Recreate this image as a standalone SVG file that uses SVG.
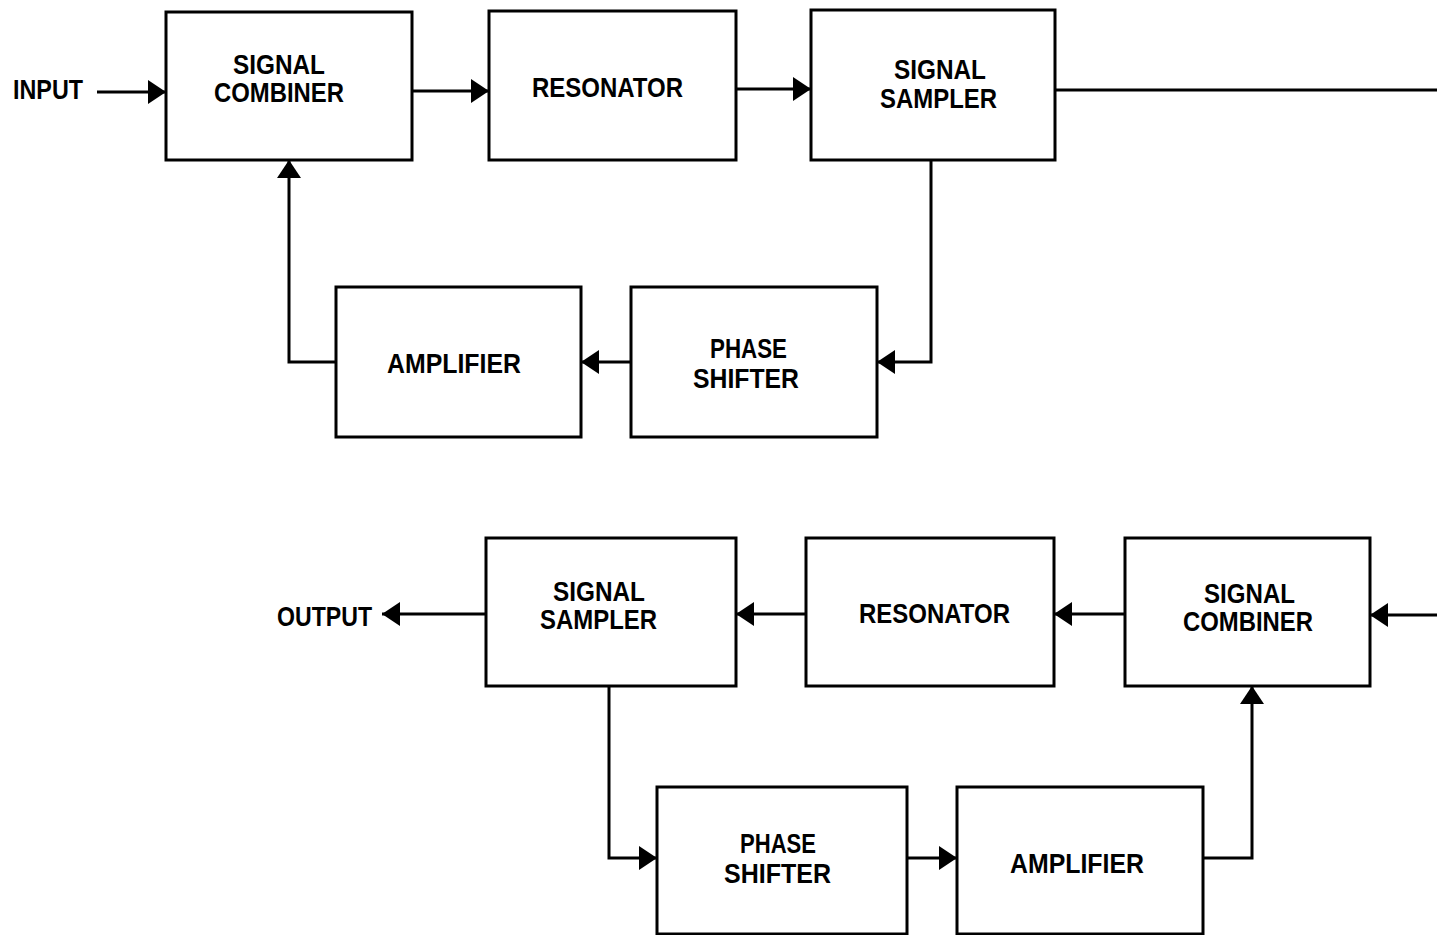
<svg xmlns="http://www.w3.org/2000/svg" width="1437" height="935" viewBox="0 0 1437 935">
<style>
.box{fill:#fff;stroke:#000;stroke-width:3}
.ln{fill:none;stroke:#000;stroke-width:3}
text{font-family:"Liberation Sans",Arial,sans-serif;font-weight:bold;font-size:28px;fill:#000}
</style>
<defs>
<marker id="ah" markerUnits="userSpaceOnUse" markerWidth="20" markerHeight="26" refX="18" refY="12" orient="auto" overflow="visible">
<path d="M0,0 L18,12 L0,24 Z" fill="#000"/>
</marker>
</defs>
<rect width="1437" height="935" fill="#fff"/>
<g id="connectors">
<path class="ln" d="M97,92 L166,92" marker-end="url(#ah)"/>
<path class="ln" d="M412,91 L489,91" marker-end="url(#ah)"/>
<path class="ln" d="M736,89 L811,89" marker-end="url(#ah)"/>
<path class="ln" d="M1055,90 L1437,90"/>
<path class="ln" d="M931,160 L931,362 L877,362" marker-end="url(#ah)"/>
<path class="ln" d="M631,362 L581,362" marker-end="url(#ah)"/>
<path class="ln" d="M336,362 L289,362 L289,160" marker-end="url(#ah)"/>
<path class="ln" d="M1437,615 L1370,615" marker-end="url(#ah)"/>
<path class="ln" d="M1125,614 L1054,614" marker-end="url(#ah)"/>
<path class="ln" d="M806,614 L736,614" marker-end="url(#ah)"/>
<path class="ln" d="M486,614 L382,614" marker-end="url(#ah)"/>
<path class="ln" d="M609,686 L609,858 L657,858" marker-end="url(#ah)"/>
<path class="ln" d="M907,858 L957,858" marker-end="url(#ah)"/>
<path class="ln" d="M1203,858 L1252,858 L1252,686" marker-end="url(#ah)"/>
</g>
<g id="input"><text x="13" y="99" textLength="70" lengthAdjust="spacingAndGlyphs">INPUT</text></g>
<g id="output"><text x="277" y="626" textLength="95" lengthAdjust="spacingAndGlyphs">OUTPUT</text></g>
<g id="top-combiner">
<rect class="box" x="166" y="12" width="246" height="148"/>
<text x="233" y="74" textLength="92" lengthAdjust="spacingAndGlyphs">SIGNAL</text>
<text x="214" y="102" textLength="130" lengthAdjust="spacingAndGlyphs">COMBINER</text>
</g>
<g id="top-resonator">
<rect class="box" x="489" y="11" width="247" height="149"/>
<text x="532" y="97" textLength="151" lengthAdjust="spacingAndGlyphs">RESONATOR</text>
</g>
<g id="top-sampler">
<rect class="box" x="811" y="10" width="244" height="150"/>
<text x="894" y="79" textLength="92" lengthAdjust="spacingAndGlyphs">SIGNAL</text>
<text x="880" y="108" textLength="117" lengthAdjust="spacingAndGlyphs">SAMPLER</text>
</g>
<g id="top-amplifier">
<rect class="box" x="336" y="287" width="245" height="150"/>
<text x="387" y="373" textLength="134" lengthAdjust="spacingAndGlyphs">AMPLIFIER</text>
</g>
<g id="top-phase">
<rect class="box" x="631" y="287" width="246" height="150"/>
<text x="710" y="358" textLength="77" lengthAdjust="spacingAndGlyphs">PHASE</text>
<text x="693" y="388" textLength="106" lengthAdjust="spacingAndGlyphs">SHIFTER</text>
</g>
<g id="bot-sampler">
<rect class="box" x="486" y="538" width="250" height="148"/>
<text x="553" y="601" textLength="92" lengthAdjust="spacingAndGlyphs">SIGNAL</text>
<text x="540" y="629" textLength="117" lengthAdjust="spacingAndGlyphs">SAMPLER</text>
</g>
<g id="bot-resonator">
<rect class="box" x="806" y="538" width="248" height="148"/>
<text x="859" y="623" textLength="151" lengthAdjust="spacingAndGlyphs">RESONATOR</text>
</g>
<g id="bot-combiner">
<rect class="box" x="1125" y="538" width="245" height="148"/>
<text x="1204" y="603" textLength="91" lengthAdjust="spacingAndGlyphs">SIGNAL</text>
<text x="1183" y="631" textLength="130" lengthAdjust="spacingAndGlyphs">COMBINER</text>
</g>
<g id="bot-phase">
<rect class="box" x="657" y="787" width="250" height="147"/>
<text x="740" y="853" textLength="76" lengthAdjust="spacingAndGlyphs">PHASE</text>
<text x="724" y="883" textLength="107" lengthAdjust="spacingAndGlyphs">SHIFTER</text>
</g>
<g id="bot-amplifier">
<rect class="box" x="957" y="787" width="246" height="147"/>
<text x="1010" y="873" textLength="134" lengthAdjust="spacingAndGlyphs">AMPLIFIER</text>
</g>
</svg>
